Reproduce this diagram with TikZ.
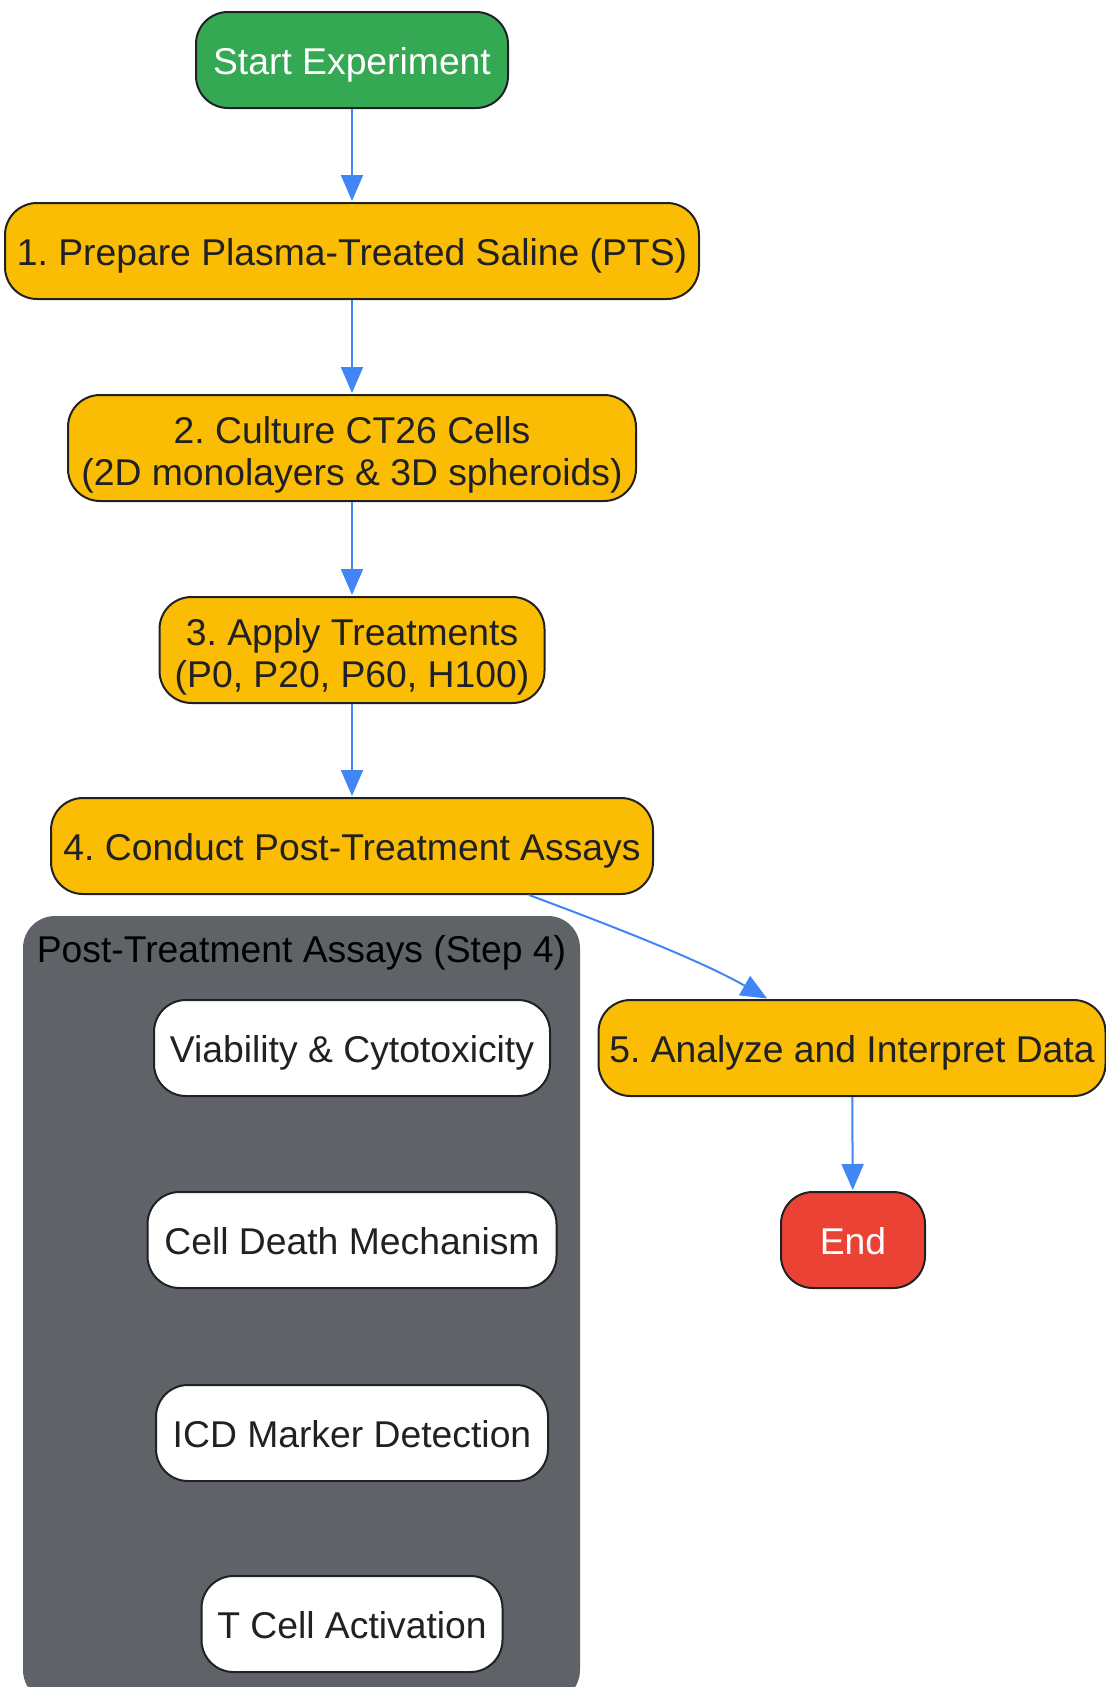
\documentclass[tikz,border=0pt]{standalone}
\usepackage{fontspec}
\setmainfont{Liberation Sans}
\frenchspacing
\usetikzlibrary{arrows.meta}
\definecolor{startgreen}{HTML}{34A853}
\definecolor{stepyellow}{HTML}{FBBC04}
\definecolor{endred}{HTML}{EA4335}
\definecolor{clustergray}{HTML}{5F6368}
\definecolor{edgeblue}{HTML}{4285F4}
\definecolor{inkdark}{HTML}{202124}
\begin{document}
\begin{tikzpicture}[x=0.5pt, y=-0.5pt,
  every node/.style={font=\fontsize{18.65}{21}\selectfont, align=center},
  box/.style={draw=inkdark, line width=1pt, rounded corners=16pt, inner sep=0pt, minimum height=48pt, text=inkdark,
    execute at begin node={\rule[-4pt]{0pt}{22.8pt}}},
  stepbox/.style={box, fill=stepyellow},
  assaybox/.style={box, fill=white},
  arr/.style={draw=edgeblue, line width=1pt, -{Triangle[length=13pt,width=11pt]}, shorten >=0.5pt},
]
\useasboundingbox (0,0) rectangle (1105,1687);
% Cluster
\fill[clustergray, rounded corners=16pt] (23,916) rectangle (580,1702);
\node[text=black] (ctitle) at (301.5,953) {Post-Treatment Assays (Step 4)};
% Main steps
\node[box, fill=startgreen, text=white, minimum width=156pt] (start) at (352,60) {Start Experiment};
\node[stepbox, minimum width=347pt] (prep) at (352,251) {1. Prepare Plasma-Treated Saline (PTS)};
\node[stepbox, minimum width=284pt, minimum height=53pt] (culture) at (352,448) {\rule{0pt}{20.1pt}2. Culture CT26 Cells\\(2D monolayers \& 3D spheroids)};
\node[stepbox, minimum width=192.5pt, minimum height=53pt] (apply) at (352,650) {\rule{0pt}{20.1pt}3. Apply Treatments\\(P0, P20, P60, H100)};
\node[stepbox, minimum width=301pt] (assays) at (352,846) {4. Conduct Post-Treatment Assays};
\node[stepbox, minimum width=253.5pt] (analyze) at (852,1048) {5. Analyze and Interpret Data};
\node[box, fill=endred, text=white, minimum width=72pt] (finish) at (853,1240) {End};
% Assays
\node[assaybox, minimum width=198pt] (viab) at (352,1048) {Viability \& Cytotoxicity};
\node[assaybox, minimum width=204.5pt] (death) at (352,1240) {Cell Death Mechanism};
\node[assaybox, minimum width=196pt] (icd) at (352,1433) {ICD Marker Detection};
\node[assaybox, minimum width=150.5pt] (tcell) at (352,1624) {T Cell Activation};
% Edges
\draw[arr] (start) -- (prep);
\draw[arr] (prep) -- (culture);
\draw[arr] (culture) -- (apply);
\draw[arr] (apply) -- (assays);
\draw[arr] ([xshift=88.5pt]assays.south) .. controls +(75,28) and +(-70,-40) .. ([xshift=-42pt]analyze.north);
\draw[arr] (analyze) -- (finish);
\end{tikzpicture}
\end{document}
